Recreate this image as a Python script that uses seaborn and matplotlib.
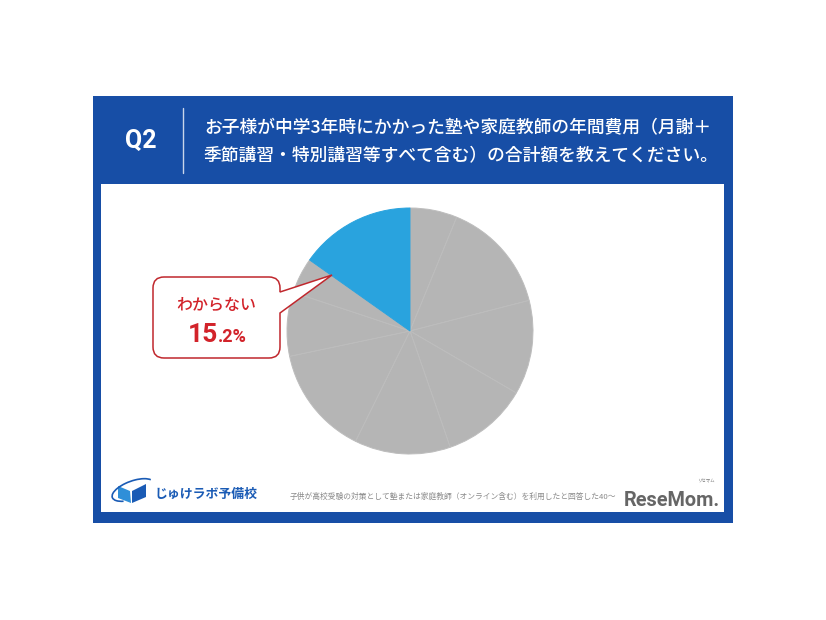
import matplotlib
matplotlib.use("Agg")
import matplotlib.pyplot as plt
import seaborn as sns
from matplotlib.patches import Rectangle, PathPatch, Polygon, Arc
from matplotlib.path import Path

# ---- data ----
categories = ["5万円未満", "5万円以上10万円未満", "10万円以上20万円未満", "20万円以上30万円未満",
              "30万円以上40万円未満", "40万円以上50万円未満", "50万円以上70万円未満", "70万円以上",
              "わからない"]
values = [6.2, 14.8, 12.4, 11.3, 12.6, 14.4, 8.4, 4.7, 15.2]
highlight = "わからない"
highlight_label = "15.2%"
title_q = "Q2"
title_lines = ["お子様が中学3年時にかかった塾や家庭教師の年間費用（月謝＋",
               "季節講習・特別講習等すべて含む）の合計額を教えてください。"]
footnote = "子供が高校受験の対策として塾または家庭教師（オンライン含む）を利用したと回答した40～"
brand = "じゅけラボ予備校"

sns.set_theme(style="white")
plt.rcParams['font.family'] = ['Noto Sans CJK JP', 'DejaVu Sans']

BLUE = "#174ea6"
GRAY = "#b5b5b5"
SKY = "#29a3de"
RED = "#d2232a"

W, H = 826, 620
fig = plt.figure(figsize=(W / 100, H / 100), dpi=100)
fig.patch.set_facecolor("white")

bg = fig.add_axes([0, 0, 1, 1])
bg.set_xlim(0, W); bg.set_ylim(H, 0); bg.axis("off")
bg.add_patch(Rectangle((93, 96), 640, 427, color=BLUE, lw=0))
bg.add_patch(Rectangle((101, 184), 623, 328, color="white", lw=0))

# header
bg.text(141, 141, title_q, color="white", fontsize=18, fontweight="bold",
        ha="center", va="center", family=["Roboto", "DejaVu Sans"])
bg.plot([182.5, 182.5], [108, 173], color="#c9d5ea", lw=1.0)
bg.text(204, 128, title_lines[0], color="white", fontsize=12.8, ha="left", va="center",
        fontweight="medium")
bg.text(204, 156, title_lines[1], color="white", fontsize=12.8, ha="left", va="center",
        fontweight="medium")

# pie
cx, cy, r = 410, 331, 123
pax = fig.add_axes([(cx - r) / W, (H - cy - r) / H, 2 * r / W, 2 * r / H])
colors = [SKY if c == highlight else GRAY for c in categories]
wedges, _ = pax.pie(values, colors=colors, startangle=90, counterclock=False, radius=1,
                    wedgeprops=dict(edgecolor="#bdbdbd", linewidth=0.7))
for w, c in zip(wedges, categories):
    if c == highlight:
        w.set_edgecolor(SKY)
pax.set_xlim(-1, 1); pax.set_ylim(-1, 1); pax.set_aspect("equal"); pax.axis("off")

# overlay
ov = fig.add_axes([0, 0, 1, 1])
ov.set_xlim(0, W); ov.set_ylim(H, 0); ov.axis("off"); ov.patch.set_alpha(0)

L, T, R, B, rr = 153, 277, 280, 358, 11
tipx, tipy = 332, 275
verts = [(L + rr, T), (R - rr, T), (R, T), (R, T + rr), (R, 292), (tipx, tipy), (R, 313),
         (R, B - rr), (R, B), (R - rr, B), (L + rr, B), (L, B), (L, B - rr), (L, T + rr),
         (L, T), (L + rr, T), (L + rr, T)]
codes = [Path.MOVETO, Path.LINETO, Path.CURVE3, Path.CURVE3, Path.LINETO, Path.LINETO, Path.LINETO,
         Path.LINETO, Path.CURVE3, Path.CURVE3, Path.LINETO, Path.CURVE3, Path.CURVE3, Path.LINETO,
         Path.CURVE3, Path.CURVE3, Path.CLOSEPOLY]
ov.add_patch(PathPatch(Path(verts, codes), facecolor="white", edgecolor="#c0272d", lw=1.1,
                       joinstyle="miter"))
ov.text(216, 305, highlight, color=RED, fontsize=11.5, fontweight="medium",
        ha="center", va="center")
ov.text(218, 342, highlight_label[:2], color=RED, fontsize=19, fontweight="bold",
        ha="right", va="baseline", family=["Roboto", "DejaVu Sans"])
ov.text(218, 342, highlight_label[2:], color=RED, fontsize=13, fontweight="bold",
        ha="left", va="baseline", family=["Roboto", "DejaVu Sans"])

# footer: logo icon
ov.add_patch(Polygon([(118, 486), (130, 491), (131, 503), (118, 498)], closed=True,
                     color="#2f8fd8", lw=0))
ov.add_patch(Polygon([(132, 491), (146, 484), (146, 497), (132, 503)], closed=True,
                     color="#1a5bb5", lw=0))
ov.add_patch(Arc((133, 490), 44, 18, angle=-20, theta1=150, theta2=350, color="#1a5bb5", lw=1.2))
ov.text(154, 494, brand, color="#1a5bb5", fontsize=9.3, fontweight="bold", ha="left", va="center")
ov.text(290, 497, footnote, color="#8a8a8a", fontsize=5.6, ha="left", va="center")
ov.text(624, 500, "ReseMom.", color="#666666", fontsize=14.3, fontweight="bold",
        ha="left", va="center", family=["Roboto", "DejaVu Sans"])
ov.text(706, 481, "リセマム", color="#777777", fontsize=3.2, ha="center", va="center")

fig.savefig("out.png", dpi=100, facecolor="white")
